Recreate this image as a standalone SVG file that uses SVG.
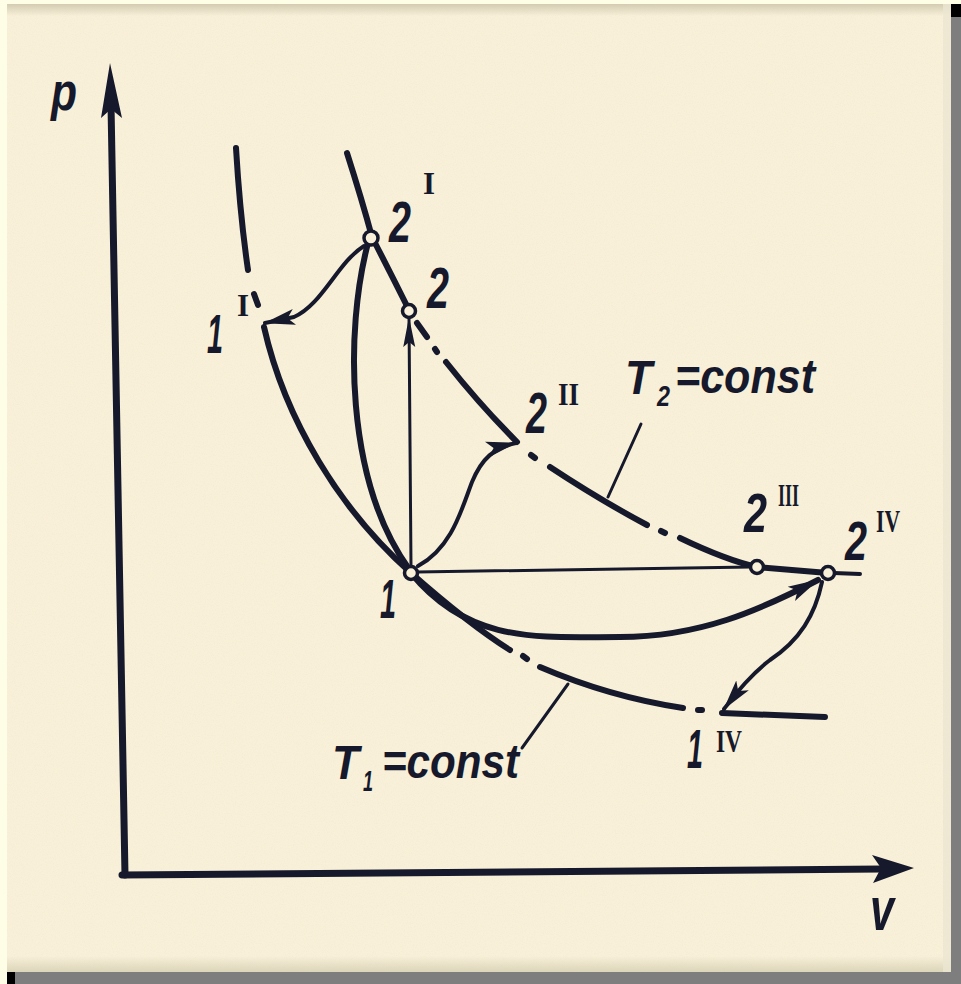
<svg xmlns="http://www.w3.org/2000/svg" width="961" height="984" viewBox="0 0 961 984">
<style>
.ink{fill:none;stroke:#16192b;stroke-linecap:round;stroke-linejoin:round}
.thick{stroke-width:6}
.mid{stroke-width:4}
.thin{stroke-width:3}
.axis{stroke-width:7}
.pt{fill:#f8f0d9;stroke:#16192b;stroke-width:3.5}
.lbl{font-family:"Liberation Sans","DejaVu Sans",sans-serif;font-style:italic;font-weight:bold;fill:#16192b}
.rom{font-family:"Liberation Serif","DejaVu Serif",serif;font-weight:bold;fill:#16192b}
.head{fill:#16192b}
</style>
<defs>
<marker id="ah" viewBox="0 0 32 20" refX="30" refY="10" markerWidth="32" markerHeight="20" markerUnits="userSpaceOnUse" orient="auto">
<path d="M0,2 L31,10 L0,18 L7,10 Z" fill="#16192b"/>
</marker>
<marker id="ahThin" viewBox="0 0 30 14" refX="29" refY="7" markerWidth="30" markerHeight="14" markerUnits="userSpaceOnUse" orient="auto">
<path d="M0,1 L30,7 L0,13 L5,7 Z" fill="#16192b"/>
</marker>
<filter id="grain" x="0" y="0" width="100%" height="100%">
<feTurbulence type="fractalNoise" baseFrequency="0.9" numOctaves="2" seed="3"/>
<feColorMatrix type="matrix" values="0 0 0 0 0.88  0 0 0 0 0.66  0 0 0 0 0.45  0 0 0 -1.6 0.9"/>
</filter>
<linearGradient id="topband" x1="0" y1="0" x2="0" y2="1">
<stop offset="0" stop-color="#cfc8ae" stop-opacity="0.9"/>
<stop offset="1" stop-color="#cfc8ae" stop-opacity="0"/>
</linearGradient>
<linearGradient id="botband" x1="0" y1="1" x2="0" y2="0">
<stop offset="0" stop-color="#d8d2b6" stop-opacity="0.9"/>
<stop offset="1" stop-color="#d8d2b6" stop-opacity="0"/>
</linearGradient>
</defs>

<g id="frame">
<rect x="0" y="0" width="961" height="984" fill="#fefee6"/>
<rect x="951" y="17" width="10" height="967" fill="#7e7e7e"/>
<rect x="15" y="972" width="946" height="12" fill="#7e7e7e"/>
<rect x="951" y="4" width="10" height="13" fill="#000"/>
<rect x="7" y="972" width="8" height="12" fill="#000"/>
<rect x="7" y="4" width="944" height="968" fill="#f8f0d9"/>
<rect x="7" y="4" width="944" height="968" filter="url(#grain)" opacity="0.2"/>
<rect x="7" y="4" width="944" height="12" fill="url(#topband)"/>
<rect x="7" y="956" width="944" height="16" fill="url(#botband)"/>
<rect x="943" y="4" width="8" height="968" fill="#ebe6d2" opacity="0.8"/>
</g>

<g id="axes">
<path class="ink axis" d="M125,875 L111,105"/>
<path class="head" d="M110,63 L122,118 L111,109 L101,118 Z"/>
<path class="ink axis" d="M122,875 L882,869"/>
<path class="head" d="M914,868 L872,855 L881,868 L873,883 Z"/>
</g>

<g id="isotherm-T1">
<path class="ink thick" d="M236,148 Q240,215 248,270"/>
<path class="ink thick" d="M254,294 L258,305"/>
<path class="ink thick" d="M264,327 C285,420 340,510 411,573 C445,603 478,630 510,650"/>
<path class="ink thick" d="M523,656 L527,659"/>
<path class="ink thick" d="M540,667 Q610,697 683,708"/>
<path class="ink thick" d="M698,710 L702,710"/>
<path class="ink thin" d="M522,748 L568,684"/>
</g>

<g id="isotherm-T2">
<path class="ink thick" d="M347,153 Q362,200 372,237 Q390,272 409,310"/>
<path class="ink thick" d="M417,323 L427,337"/>
<path class="ink thick" d="M435,349 L437,352"/>
<path class="ink thick" d="M446,362 Q480,405 517,442"/>
<path class="ink thick" d="M531,455 L535,458"/>
<path class="ink thick" d="M550,467 Q600,500 647,525"/>
<path class="ink thick" d="M661,531 L665,533"/>
<path class="ink thick" d="M680,538 C705,550 730,561 757,567 L828,573"/>
<path class="ink mid" d="M834,573 L860,574"/>
<path class="ink thin" d="M608,497 L641,424"/>
</g>

<g id="connectors">
<path class="ink thick" d="M368,243 C345,330 345,480 409,569"/>
<path class="ink mid" d="M364,246 C338,262 322,305 294,317 L265,323" marker-end="url(#ah)"/>
<path class="ink thin" d="M411,567 L409,318" marker-end="url(#ahThin)"/>
<path class="ink thin" d="M417,572 L751,567"/>
<path class="ink mid" d="M418,566 C452,548 462,508 472,482 C482,458 494,448 516,443" marker-end="url(#ah)"/>
<path class="ink thick" d="M411,573 C470,645 540,637 620,637 C700,637 760,610 818,580" marker-end="url(#ah)"/>
<path class="ink mid" d="M822,582 C815,615 800,640 770,660 C750,675 735,695 724,709" marker-end="url(#ah)"/>
<path class="ink thick" d="M722,713 L825,717"/>
</g>

<g id="node-1">
<circle class="pt" cx="411" cy="573" r="6.5"/>
<text class="lbl" x="380" y="618" font-size="56" textLength="16" lengthAdjust="spacingAndGlyphs">1</text>
</g>
<g id="node-2">
<circle class="pt" cx="409" cy="311" r="6.5"/>
<text class="lbl" x="427" y="308" font-size="58" textLength="22" lengthAdjust="spacingAndGlyphs">2</text>
</g>
<g id="node-2I">
<circle class="pt" cx="371" cy="238" r="7"/>
<text class="lbl" x="389" y="242" font-size="58" textLength="22" lengthAdjust="spacingAndGlyphs">2</text>
<text class="rom" x="423" y="194" font-size="32" textLength="12" lengthAdjust="spacingAndGlyphs">I</text>
</g>
<g id="node-1I">
<text class="lbl" x="207" y="353" font-size="56" textLength="16" lengthAdjust="spacingAndGlyphs">1</text>
<text class="rom" x="237" y="316" font-size="32" textLength="12" lengthAdjust="spacingAndGlyphs">I</text>
</g>
<g id="node-2II">
<text class="lbl" x="526" y="433" font-size="58" textLength="21" lengthAdjust="spacingAndGlyphs">2</text>
<text class="rom" x="558" y="405" font-size="32" textLength="21" lengthAdjust="spacingAndGlyphs">II</text>
</g>
<g id="node-2III">
<text class="lbl" x="744" y="532" font-size="56" textLength="23" lengthAdjust="spacingAndGlyphs">2</text>
<text class="rom" x="778" y="506" font-size="32" textLength="21" lengthAdjust="spacingAndGlyphs">III</text>
<circle class="pt" cx="757" cy="567" r="6.5"/>
</g>
<g id="node-2IV">
<circle class="pt" cx="828" cy="573" r="6.5"/>
<text class="lbl" x="845" y="560" font-size="56" textLength="22" lengthAdjust="spacingAndGlyphs">2</text>
<text class="rom" x="876" y="532" font-size="32" textLength="24" lengthAdjust="spacingAndGlyphs">IV</text>
</g>
<g id="node-1IV">
<text class="lbl" x="687" y="768" font-size="56" textLength="16" lengthAdjust="spacingAndGlyphs">1</text>
<text class="rom" x="716" y="752" font-size="32" textLength="26" lengthAdjust="spacingAndGlyphs">IV</text>
</g>

<g id="label-T2">
<text class="lbl" x="625" y="394" font-size="48" textLength="27" lengthAdjust="spacingAndGlyphs">T</text>
<text class="lbl" x="657" y="406" font-size="30" textLength="13" lengthAdjust="spacingAndGlyphs">2</text>
<text class="lbl" x="675" y="393" font-size="48" textLength="140" lengthAdjust="spacingAndGlyphs">=const</text>
</g>
<g id="label-T1">
<text class="lbl" x="332" y="779" font-size="48" textLength="27" lengthAdjust="spacingAndGlyphs">T</text>
<text class="lbl" x="363" y="791" font-size="30" textLength="10" lengthAdjust="spacingAndGlyphs">1</text>
<text class="lbl" x="382" y="778" font-size="48" textLength="137" lengthAdjust="spacingAndGlyphs">=const</text>
</g>
<g id="axis-labels">
<text class="lbl" x="51" y="110" font-size="54" textLength="26" lengthAdjust="spacingAndGlyphs">p</text>
<text class="lbl" x="870" y="930" font-size="62" textLength="24" lengthAdjust="spacingAndGlyphs">v</text>
</g>
</svg>
